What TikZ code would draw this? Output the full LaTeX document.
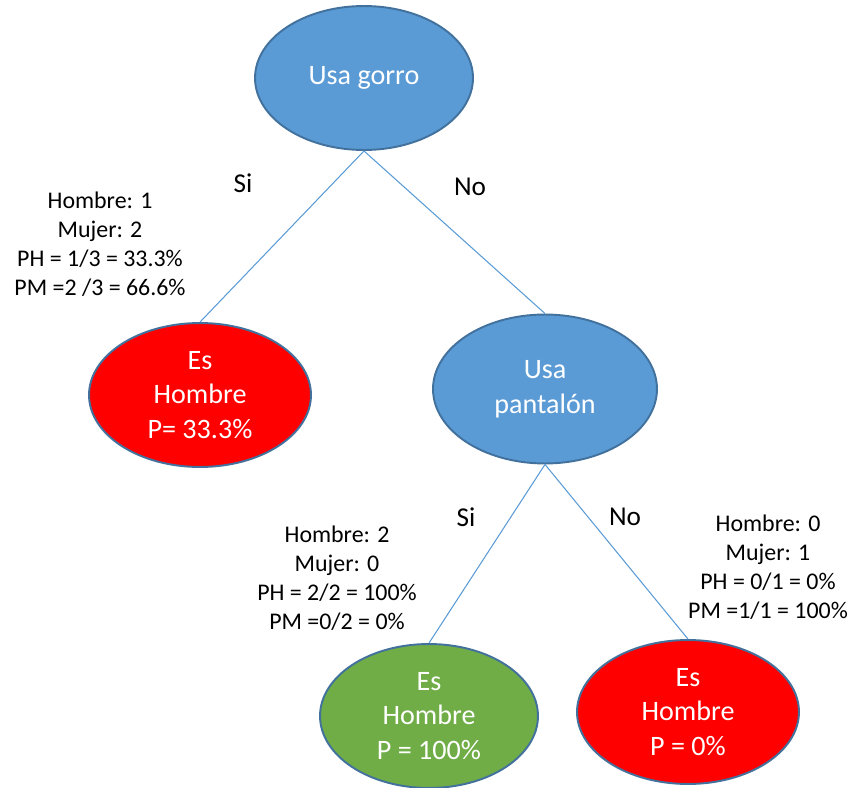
\documentclass[tikz,border=0pt]{standalone}
\usepackage{fontspec}
\setmainfont{Carlito}
\usepackage{tikz}
\usetikzlibrary{shapes.geometric,positioning}
\definecolor{nodeblue}{RGB}{91,155,213}
\definecolor{edgeblue}{RGB}{65,113,156}
\definecolor{leafred}{RGB}{255,0,0}
\definecolor{leafgreen}{RGB}{112,173,71}

\begin{document}
\begin{tikzpicture}[
    x=0.02cm, y=-0.02cm,
    question/.style={ellipse, draw=edgeblue, line width=1.1pt, fill=nodeblue, text=white, inner sep=0pt, align=center, minimum width=4.4cm, minimum height=2.88cm, font=\fontsize{16}{19.8}\selectfont},
    leaf/.style={question, fill=leafred},
    branch/.style={draw=nodeblue, line width=0.6pt},
    answer/.style={font=\fontsize{15.5}{18}\selectfont},
    counts/.style={align=center, font=\fontsize{13.6}{16.5}\selectfont}
]
\useasboundingbox (0,0) rectangle (856,788);

\node[question, minimum width=4.36cm] (gorro) at (364,78) {Usa gorro};
\node[leaf, minimum width=4.44cm] (hombre1) at (200,395) {Es\\Hombre\\P= 33.3\%};
\node[question, minimum width=4.48cm, minimum height=2.98cm] (pantalon) at (545,389) {Usa\\pantalón};
\node[leaf, fill=leafgreen, minimum width=4.36cm] (hombre2) at (429,716) {Es\\Hombre\\P = 100\%};
\node[leaf, minimum width=4.44cm] (hombre3) at (688,712) {Es\\Hombre\\P = 0\%};

\draw[branch] (gorro.south) -- (hombre1.north);
\draw[branch] (gorro.south) -- (pantalon.north);
\draw[branch] (pantalon.south) -- (hombre2.north);
\draw[branch] (pantalon.south) -- (hombre3.north);

\node[answer] (si1) at (243,183) {Si};
\node[answer] (no1) at (470,187) {No};
\node[answer] (si2) at (466,517) {Si};
\node[answer] (no2) at (625,517) {No};

\node[counts] (conteo1) at (100,244) {Hombre: 1\\Mujer: 2\\PH = 1/3 = 33.3\%\\PM =2 /3 = 66.6\%};
\node[counts] (conteo2) at (337,578) {Hombre: 2\\Mujer: 0\\PH = 2/2 = 100\%\\PM =0/2 = 0\%};
\node[counts] (conteo3) at (768,567) {Hombre: 0\\Mujer: 1\\PH = 0/1 = 0\%\\PM =1/1 = 100\%};

\end{tikzpicture}
\end{document}
